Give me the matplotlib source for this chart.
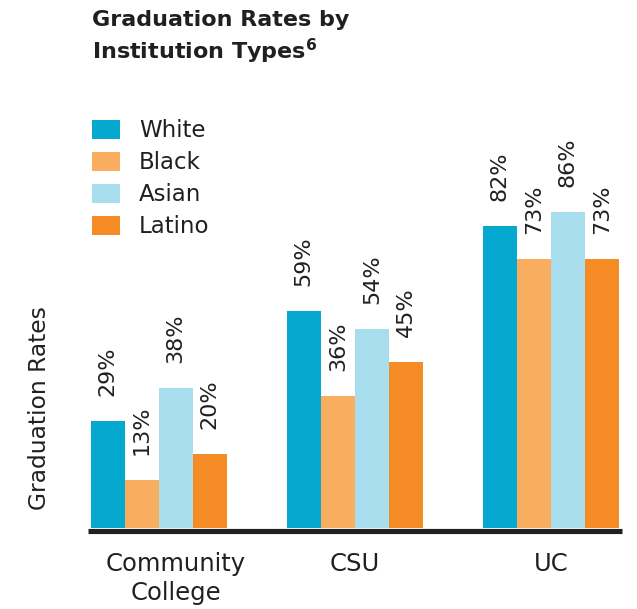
import matplotlib
matplotlib.use('Agg')
import matplotlib.pyplot as plt
import matplotlib.transforms as mtrans
import numpy as np
from matplotlib.patches import Patch

plt.rcParams['font.family'] = ['DejaVu Sans']

groups = ['Community\nCollege', 'CSU', 'UC']
races = ['White', 'Black', 'Asian', 'Latino']
white = [29, 59, 82]
black = [13, 36, 73]
asian = [38, 54, 86]
latino = [20, 45, 73]
colors = ['#05a8cf', '#f9ad5e', '#a7dded', '#f48b25']
txt = '#231f20'

W, H = 637, 609
fig = plt.figure(figsize=(W / 100, H / 100), dpi=100)
# axes in pixel coordinates: left 88, right 622, baseline 528, top 160
ax = fig.add_axes([88 / W, (H - 528) / H, (622 - 88) / W, 368 / H])
ax.set_ylim(0, 100)
ax.set_xlim(-0.36, 2.362)

x = np.arange(len(groups))
bw = 34 / 196
series = [white, black, asian, latino]
for i, vals in enumerate(series):
    pos = x + (i - 1.5) * bw
    ax.bar(pos, vals, width=bw, color=colors[i], linewidth=0)
    for p, v in zip(pos, vals):
        ax.annotate(f'{v}%', (p, v), xytext=(0, 18), textcoords='offset points',
                    rotation=90, ha='center', va='bottom', fontsize=16,
                    color=txt, annotation_clip=False)

for s in ['top', 'right', 'left', 'bottom']:
    ax.spines[s].set_visible(False)
ax.axhline(-0.68, color=txt, lw=3.7, clip_on=False, solid_capstyle='butt')
ax.set_yticks([])
ax.set_xticks(x)
ax.set_xticklabels(groups, fontsize=17.5, color=txt, linespacing=1.3)
ax.tick_params(axis='x', length=0, pad=17)
# first label sits a bit right of its group in the original
lab0 = ax.get_xticklabels()[0]
lab0.set_transform(lab0.get_transform() +
                   mtrans.ScaledTranslation(17 / 100, 0, fig.dpi_scale_trans))

fig.text(40 / W, 1 - 408 / H, 'Graduation Rates', rotation=90, ha='center',
         va='center', fontsize=16.8, color=txt)

fig.text(92 / W, 1 - 10 / H, 'Graduation Rates by\nInstitution Types$^{\\mathbf{6}}$',
         ha='left', va='top', fontsize=16, fontweight='bold', color=txt,
         linespacing=1.3)

handles = [Patch(facecolor=c, edgecolor='none') for c in colors]
leg = fig.legend(handles, races, loc='upper left',
                 bbox_to_anchor=(83 / W, 1 - 110 / H), frameon=False,
                 fontsize=16.5, handlelength=1.2, handleheight=0.9,
                 handletextpad=0.85, labelspacing=0.39, borderaxespad=0)
for t in leg.get_texts():
    t.set_color(txt)

fig.savefig('out.png', dpi=100)
